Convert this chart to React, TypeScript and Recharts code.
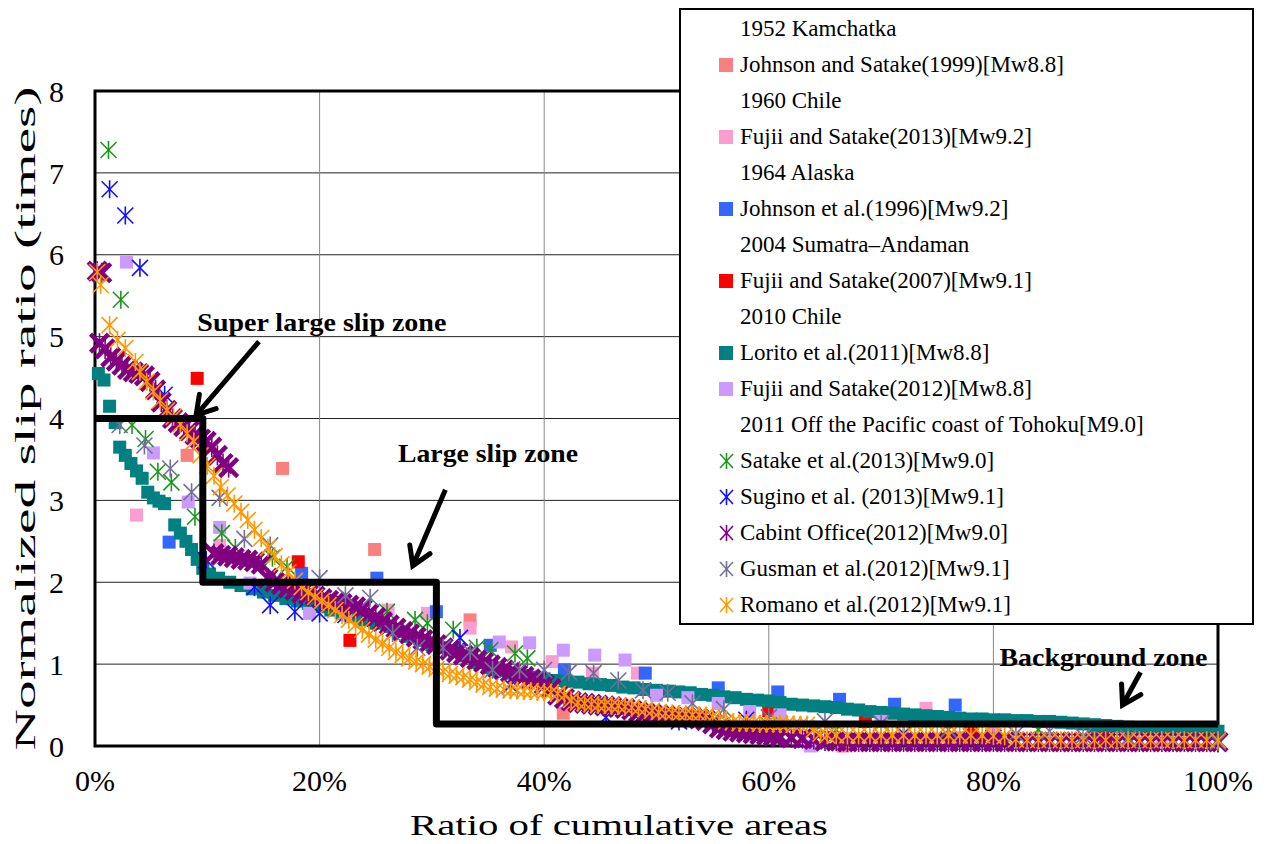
// Normalized slip ratio vs ratio of cumulative areas, with the three slip zones.

import {
	CartesianGrid,
	Label,
	ReferenceArea,
	ReferenceDot,
	ReferenceLine,
	Scatter,
	ScatterChart,
	XAxis,
	YAxis,
} from "recharts";

type Pt = [number, number];

const FONT = '"Liberation Serif", "Times New Roman", serif';

const xTicks = [0, 20, 40, 60, 80, 100];
const yTicks = [0, 1, 2, 3, 4, 5, 6, 7, 8];

// 1952 Kamchatka
const johnsonSatake1999: Pt[] = [
	[8.2, 3.55], [16.7, 3.39], [24.9, 2.4], [33.4, 1.54], [41.7, 0.4], [66.6, 0.0],
];
// 1960 Chile
const fujiiSatake2013: Pt[] = [
	[3.7, 2.82], [11.1, 2.45], [26.1, 1.66], [29.6, 1.62], [33.4, 1.44], [37.1, 1.21],
	[40.7, 1.03], [44.3, 0.89], [48.3, 0.89], [74, 0.46], [80, 0.2], [90, 0.15], [95, 0.05],
];
// 1964 Alaska
const johnson1996: Pt[] = [
	[6.6, 2.49], [18.4, 2.11], [25.1, 2.05], [30.4, 1.64], [35.2, 1.23], [41.8, 0.93],
	[49, 0.89], [55.5, 0.71], [60.8, 0.66], [66.3, 0.57], [71.2, 0.51], [76.6, 0.5], [88.9, 0.16],
];
// 2004 Sumatra-Andaman
const fujiiSatake2007: Pt[] = [
	[9.1, 4.49], [18.1, 2.25], [22.7, 1.29], [60, 0.43], [68.6, 0.3], [78, 0.2], [90, 0.1],
];
// 2010 Chile
const lorito2011: Pt[] = [
	[0.3, 4.55], [0.8, 4.47], [1.3, 4.15], [1.8, 3.95], [2.2, 3.65], [2.7, 3.55], [3.2, 3.45],
	[3.7, 3.36], [4.2, 3.27], [4.7, 3.1], [5.2, 3.03], [5.7, 2.99], [6.2, 2.96], [7.1, 2.7],
	[7.6, 2.6], [8.1, 2.5], [8.6, 2.4], [9.1, 2.28], [9.6, 2.17], [10.2, 2.1], [11, 2.05],
	[12, 2.0], [13, 1.96], [14, 1.92], [15, 1.88], [16, 1.84], [17, 1.8], [18, 1.77], [19, 1.74],
	[20, 1.7], [21, 1.66], [22, 1.62], [23, 1.58], [24, 1.54], [25, 1.5], [26, 1.46], [27, 1.4],
	[28, 1.34], [29, 1.29], [30, 1.24], [31, 1.2], [32, 1.16], [33, 1.1], [34, 1.02], [35, 0.96],
	[36, 0.92], [37, 0.89], [38, 0.86], [39, 0.84], [40, 0.82], [41, 0.8], [42, 0.79], [43, 0.78],
	[44, 0.76], [45, 0.75], [46, 0.74], [47, 0.72], [48, 0.71], [49, 0.69], [50, 0.68], [51, 0.67],
	[52, 0.66], [53, 0.65], [54, 0.63], [55, 0.62], [56, 0.6], [57, 0.59], [58, 0.57], [59, 0.56],
	[60, 0.55], [61, 0.53], [62, 0.51], [63, 0.5], [64, 0.49], [65, 0.48], [66, 0.47], [67, 0.45],
	[68, 0.44], [69, 0.42], [70, 0.41], [71, 0.4], [72, 0.39], [73, 0.38], [74, 0.37], [75, 0.36],
	[76, 0.35], [77, 0.34], [78, 0.33], [79, 0.33], [80, 0.32], [81, 0.32], [82, 0.31], [83, 0.31],
	[84, 0.3], [85, 0.3], [86, 0.29], [87, 0.28], [88, 0.27], [89, 0.26], [90, 0.25], [91, 0.24],
	[92, 0.23], [93, 0.22], [94, 0.21], [95, 0.21], [96, 0.2], [97, 0.2], [98, 0.19], [99, 0.19],
	[100, 0.18],
];
const fujiiSatake2012: Pt[] = [
	[2.8, 5.91], [5.2, 3.58], [8.3, 2.98], [11.1, 2.67], [13.8, 1.99], [19.1, 1.62], [22.3, 1.6],
	[36, 1.27], [38.7, 1.26], [41.7, 1.17], [44.5, 1.11], [47.2, 1.05], [50, 0.62], [52.8, 0.59],
	[55.5, 0.52], [58.3, 0.42], [61, 0.38], [63.7, 0.0], [70, 0.3], [77, 0.1],
];
// 2011 Tohoku
const satake2013: Pt[] = [
	[1.2, 7.28], [2.3, 5.45], [3.3, 3.92], [4.5, 3.75], [5.6, 3.35], [6.8, 3.22], [8.9, 2.8],
	[11.3, 2.6], [12.5, 2.42], [15.8, 2.3], [17.1, 2.19], [26, 1.64], [28.5, 1.54], [29.6, 1.5],
	[31.9, 1.42], [34, 1.2], [35.2, 1.17], [37.4, 1.13], [38.5, 1.07], [55, 0.3], [60, 0.25],
	[66, 0.2], [72, 0.15], [78, 0.12], [84, 0.2], [90, 0.08], [96, 0.05],
];
const sugino2013: Pt[] = [
	[1.3, 6.8], [2.7, 6.48], [4.0, 5.84], [6.2, 4.29], [9.9, 2.27], [14.2, 1.94], [15.6, 1.72],
	[17.8, 1.64], [20, 1.62], [22.3, 1.6], [32.5, 1.32], [37, 0.74], [45.5, 0.35], [52, 0.3],
	[58, 0.32], [64, 0.2], [72, 0.15], [80, 0.1], [90, 0.08], [100, 0.03],
];
const cabinetOffice2012: Pt[] = [
	[0.2, 5.8], [0.6, 5.78], [0.4, 4.92], [0.9, 4.85], [1.4, 4.75], [1.9, 4.7], [2.4, 4.65],
	[2.9, 4.6], [3.4, 4.57], [3.9, 4.55], [4.4, 4.52], [4.9, 4.45], [5.4, 4.35], [5.9, 4.2],
	[6.4, 4.1], [6.9, 4.0], [7.4, 3.95], [7.9, 3.9], [8.4, 3.85], [8.9, 3.8], [9.4, 3.75],
	[9.9, 3.72], [10.4, 3.65], [10.9, 3.55], [11.4, 3.45], [11.9, 3.4], [10.6, 2.35], [11.2, 2.33],
	[11.8, 2.32], [12.4, 2.3], [13, 2.28], [13.6, 2.27], [14.2, 2.25], [14.8, 2.22], [15.4, 2.05],
	[16, 2.0], [16.6, 1.97], [17.2, 1.93], [17.8, 1.9], [18.4, 1.87], [19, 1.85], [19.6, 1.83],
	[20.2, 1.8], [20.8, 1.78], [21.4, 1.76], [22, 1.74], [22.6, 1.72], [23.2, 1.7], [23.8, 1.67],
	[24.4, 1.62], [25, 1.57], [25.6, 1.52], [26.2, 1.48], [26.8, 1.44], [27.4, 1.4], [28, 1.37],
	[28.6, 1.33], [29.2, 1.3], [29.8, 1.27], [30.4, 1.24], [31, 1.2], [31.6, 1.17], [32.2, 1.14],
	[32.8, 1.11], [33.4, 1.08], [34, 1.05], [34.6, 1.02], [35.2, 0.99], [35.8, 0.96], [36.4, 0.93],
	[37, 0.9], [37.6, 0.87], [38.2, 0.85], [38.8, 0.82], [39.4, 0.8], [40, 0.75], [40.6, 0.7],
	[41.2, 0.62], [41.8, 0.58], [42.4, 0.55], [43, 0.53], [43.6, 0.52], [44.2, 0.51], [44.8, 0.5],
	[45.4, 0.49], [46, 0.48], [46.6, 0.47], [47.2, 0.46], [47.8, 0.44], [48.4, 0.41], [49, 0.4],
	[49.6, 0.39], [50.2, 0.38], [50.8, 0.37], [51.4, 0.36], [52, 0.36], [52.6, 0.35], [53.2, 0.34],
	[53.8, 0.33], [54.4, 0.31], [55, 0.27], [55.6, 0.22], [56.2, 0.2], [56.8, 0.18], [57.4, 0.17],
	[58, 0.16], [58.6, 0.15], [59.2, 0.14], [59.8, 0.13], [60.4, 0.12], [61, 0.11], [62, 0.1],
	[63, 0.09], [64, 0.08], [65, 0.06], [66, 0.06], [67, 0.05], [68, 0.05], [69, 0.05], [70, 0.05],
	[71, 0.05], [72, 0.05], [73, 0.05], [74, 0.05], [75, 0.05], [76, 0.05], [77, 0.05], [78, 0.05],
	[79, 0.05], [80, 0.05], [81, 0.05], [82, 0.05], [83, 0.05], [84, 0.05], [85, 0.05], [86, 0.05],
	[87, 0.05], [88, 0.05], [89, 0.05], [90, 0.05], [91, 0.05], [92, 0.05], [93, 0.05], [94, 0.05],
	[95, 0.05], [96, 0.05], [97, 0.05], [98, 0.05], [99, 0.05], [100, 0.05],
];
const gusman2012: Pt[] = [
	[2.2, 3.92], [4.4, 3.67], [6.7, 3.39], [8.6, 3.1], [11.1, 3.03], [13.3, 2.53], [15.6, 2.45],
	[20, 2.05], [22.3, 1.84], [24.5, 1.81], [26.5, 1.38], [28.7, 1.2], [31, 1.2], [33.4, 1.15],
	[35.4, 0.93], [37.8, 0.93], [40, 0.93], [42.2, 0.9], [44.4, 0.89], [46.6, 0.8], [48.8, 0.68],
	[51, 0.65], [53.2, 0.52], [56, 0.45], [60, 0.35], [65, 0.3], [70, 0.28], [76, 0.2], [82, 0.15],
	[85, 0.18], [88, 0.12], [92, 0.1], [96, 0.08], [100, 0.05],
];
const romano2012: Pt[] = [
	[0.2, 5.79], [0.5, 5.63], [1.3, 5.14], [2.0, 4.96], [2.7, 4.86], [3.6, 4.69], [4.0, 4.57],
	[4.6, 4.45], [5.2, 4.33], [5.8, 4.22], [6.4, 4.1], [7.0, 4.02], [7.6, 3.93], [8.2, 3.82],
	[8.8, 3.72], [9.4, 3.55], [10.0, 3.42], [10.6, 3.3], [11.2, 3.16], [11.8, 3.06], [12.4, 2.96],
	[13.0, 2.86], [13.6, 2.76], [14.2, 2.64], [14.8, 2.54], [15.4, 2.42], [16.0, 2.32], [16.6, 2.22],
	[17.2, 2.12], [17.8, 2.02], [18.4, 1.94], [19.0, 1.88], [19.6, 1.82], [20.2, 1.77], [20.8, 1.72],
	[21.4, 1.66], [22.0, 1.6], [22.6, 1.54], [23.2, 1.48], [23.8, 1.42], [24.4, 1.36], [25.0, 1.3],
	[25.6, 1.25], [26.2, 1.2], [26.8, 1.15], [27.4, 1.11], [28.0, 1.07], [28.6, 1.03], [29.2, 1.0],
	[29.8, 0.97], [30.4, 0.94], [31.0, 0.91], [31.6, 0.88], [32.2, 0.86], [32.8, 0.84], [33.4, 0.81],
	[34.0, 0.78], [34.6, 0.75], [35.2, 0.72], [35.8, 0.7], [36.4, 0.69], [37.0, 0.68], [37.6, 0.68],
	[38.2, 0.67], [38.8, 0.67], [39.4, 0.66], [40.0, 0.66], [40.6, 0.65], [41.2, 0.64], [41.8, 0.62],
	[42.4, 0.56], [43.0, 0.53], [43.6, 0.52], [44.2, 0.51], [44.8, 0.5], [45.4, 0.5], [46.0, 0.49],
	[46.6, 0.49], [47.2, 0.48], [47.8, 0.47], [48.4, 0.46], [49.0, 0.45], [49.6, 0.43], [50.2, 0.41],
	[50.8, 0.4], [51.4, 0.4], [52.0, 0.39], [52.6, 0.39], [53.2, 0.38], [53.8, 0.38], [54.4, 0.37],
	[55.0, 0.36], [55.6, 0.33], [56.2, 0.3], [56.8, 0.29], [57.4, 0.28], [58.0, 0.28], [58.6, 0.28],
	[59.2, 0.27], [59.8, 0.27], [60.4, 0.27], [61.0, 0.27], [61.6, 0.27], [62.2, 0.26], [62.8, 0.26],
	[63.4, 0.26], [64.0, 0.2], [64.6, 0.15], [65.2, 0.13], [66, 0.13], [67, 0.13], [68, 0.13],
	[69, 0.13], [70, 0.13], [71, 0.13], [72, 0.13], [73, 0.13], [74, 0.13], [75, 0.13], [76, 0.13],
	[77, 0.13], [78, 0.13], [79, 0.13], [80, 0.12], [81, 0.12], [82, 0.08], [83, 0.07], [84, 0.07],
	[85, 0.07], [86, 0.07], [87, 0.07], [88, 0.07], [89, 0.07], [90, 0.07], [91, 0.07], [92, 0.07],
	[93, 0.07], [94, 0.07], [95, 0.07], [96, 0.07], [97, 0.07], [98, 0.07], [99, 0.07], [100, 0.07],
];

// zone boundaries: super large (4x), large (2x), background
const zoneSteps: Pt[] = [[0, 4], [9.6, 4], [9.6, 2], [30.4, 2], [30.4, 0.27], [100, 0.27]];

type Marker = "square" | "star" | "bowtie";
type Series = { name: string; data: Pt[]; color: string; marker: Marker; header?: string };

const series: Series[] = [
	{ header: "1952 Kamchatka", name: "Johnson and Satake(1999)[Mw8.8]", data: johnsonSatake1999, color: "#fa8080", marker: "square" },
	{ header: "1960 Chile", name: "Fujii and Satake(2013)[Mw9.2]", data: fujiiSatake2013, color: "#fb9dcf", marker: "square" },
	{ header: "1964 Alaska", name: "Johnson et al.(1996)[Mw9.2]", data: johnson1996, color: "#3366ff", marker: "square" },
	{ header: "2004 Sumatra–Andaman", name: "Fujii and Satake(2007)[Mw9.1]", data: fujiiSatake2007, color: "#ff0000", marker: "square" },
	{ header: "2010 Chile", name: "Lorito et al.(2011)[Mw8.8]", data: lorito2011, color: "#008080", marker: "square" },
	{ name: "Fujii and Satake(2012)[Mw8.8]", data: fujiiSatake2012, color: "#cc99ff", marker: "square" },
	{ header: "2011 Off the Pacific coast of Tohoku[M9.0]", name: "Satake et al.(2013)[Mw9.0]", data: satake2013, color: "#1e961e", marker: "star" },
	{ name: "Sugino et al. (2013)[Mw9.1]", data: sugino2013, color: "#1010ff", marker: "star" },
	{ name: "Cabint Office(2012)[Mw9.0]", data: cabinetOffice2012, color: "#800080", marker: "bowtie" },
	{ name: "Gusman et al.(2012)[Mw9.1]", data: gusman2012, color: "#70709a", marker: "star" },
	{ name: "Romano et al.(2012)[Mw9.1]", data: romano2012, color: "#ff9900", marker: "star" },
];

const toRows = (pts: Pt[]) => pts.map(([x, y]) => ({ x, y }));

function drawMarker(marker: Marker, color: string) {
	return (p: any) => {
		const { cx, cy } = p;
		if (cx == null || cy == null) return <g />;
		if (marker === "square") {
			return <rect x={cx - 6.5} y={cy - 6.5} width={13} height={13} fill={color} />;
		}
		const w = marker === "bowtie" ? 4.5 : 1.6;
		const s = marker === "bowtie" ? 9 : 8;
		return (
			<g stroke={color} strokeWidth={w}>
				<line x1={cx - s} y1={cy - s} x2={cx + s} y2={cy + s} />
				<line x1={cx - s} y1={cy + s} x2={cx + s} y2={cy - s} />
				<line x1={cx} y1={cy - s - 1} x2={cx} y2={cy + s + 1} strokeWidth={1.6} />
			</g>
		);
	};
}

function LegendIcon({ s }: { s: Series }) {
	return (
		<svg width={15} height={16} style={{ display: "block" }}>
			{s.marker === "square" ? (
				<rect x={0} y={1} width={14} height={14} fill={s.color} />
			) : (
				<g stroke={s.color} strokeWidth={1.6}>
					<line x1={1} y1={1} x2={14} y2={15} />
					<line x1={1} y1={15} x2={14} y2={1} />
					<line x1={7.5} y1={0} x2={7.5} y2={16} />
				</g>
			)}
		</svg>
	);
}

function LegendBox() {
	const rows: { text: string; s?: Series }[] = [];
	for (const s of series) {
		if (s.header) rows.push({ text: s.header });
		rows.push({ text: s.name, s });
	}
	return (
		<div
			style={{
				position: "absolute",
				left: 671,
				top: 0,
				width: 575,
				height: 617,
				boxSizing: "border-box",
				border: "2px solid #000",
				background: "#fff",
				fontFamily: FONT,
				fontSize: 23,
				paddingTop: 1,
			}}
		>
			{rows.map((r, i) => (
				<div key={i} style={{ height: 36, display: "flex", alignItems: "center", paddingLeft: 38, whiteSpace: "nowrap" }}>
					<div style={{ width: 21 }}>{r.s ? <LegendIcon s={r.s} /> : null}</div>
					<span>{r.text}</span>
				</div>
			))}
		</div>
	);
}

const zoneLabel = (text: string, len: number) => (props: any) => {
	const vb = props.viewBox ?? {};
	const x = (vb.x ?? 0) + (vb.width ?? 0) / 2;
	const y = (vb.y ?? 0) + (vb.height ?? 0) / 2;
	return (
		<text x={x} y={y + 9} textAnchor="middle" fontFamily={FONT} fontWeight="bold" fontSize={26} fill="#000" textLength={len} lengthAdjust="spacingAndGlyphs">
			{text}
		</text>
	);
};

export default function App() {
	const tickStyle = { fontSize: 30, fontFamily: FONT, fill: "#000" };
	return (
		<div style={{ position: "relative", width: 1259, height: 836 }}>
			<svg width={0} height={0} style={{ position: "absolute" }}>
				<defs>
					<marker id="zoneArrow" markerUnits="userSpaceOnUse" orient="auto" markerWidth={30} markerHeight={30} refX={23} refY={15}>
						<path d="M5,4 L23,15 L5,26" fill="none" stroke="#000" strokeWidth={5} strokeLinecap="round" />
					</marker>
				</defs>
			</svg>
			<ScatterChart width={1259} height={836} margin={{ top: 83, right: 49, bottom: 0, left: 0 }}>
				<CartesianGrid horizontal vertical={false} stroke="#222" />
				<CartesianGrid horizontal={false} vertical stroke="#888" />
				<XAxis
					type="number"
					dataKey="x"
					domain={[0, 100]}
					ticks={xTicks}
					interval={0}
					tickFormatter={(v) => `${v}%`}
					tick={tickStyle}
					axisLine={false}
					tickLine={false}
					tickMargin={18}
					height={98}
				>
					<Label
						content={(p: any) => (
							<text x={611} y={(p.viewBox?.y ?? 738) + 89} textAnchor="middle" fontFamily={FONT} fontSize={29} fill="#000" textLength={418} lengthAdjust="spacingAndGlyphs">
								Ratio of cumulative areas
							</text>
						)}
					/>
				</XAxis>
				<YAxis
					type="number"
					dataKey="y"
					domain={[0, 8]}
					ticks={yTicks}
					interval={0}
					tick={tickStyle}
					axisLine={false}
					tickLine={false}
					tickMargin={25}
					width={87}
				>
					<Label
						content={(p: any) => {
							const vb = p.viewBox ?? { y: 83, height: 655 };
							const cy = vb.y + vb.height / 2;
							return (
								<text x={27} y={cy} transform={`rotate(-90, 27, ${cy})`} textAnchor="middle" fontFamily={FONT} fontSize={30} fill="#000" textLength={664} lengthAdjust="spacingAndGlyphs">
									Normalized slip ratio (times)
								</text>
							);
						}}
					/>
				</YAxis>
				<ReferenceArea x1={0} x2={100} y1={0} y2={8} fill="none" stroke="#000" strokeWidth={3} />
				{series.map((s) => (
					<Scatter key={s.name} name={s.name} data={toRows(s.data)} shape={drawMarker(s.marker, s.color)} isAnimationActive={false} />
				))}
				<Scatter
					data={toRows(zoneSteps)}
					line={{ stroke: "#000", strokeWidth: 7, strokeLinejoin: "round" }}
					shape={() => <g />}
					isAnimationActive={false}
				/>
				<ReferenceLine segment={[{ x: 14.6, y: 4.94 }, { x: 9.0, y: 4.04 }]} stroke="#000" strokeWidth={5} markerEnd="url(#zoneArrow)" />
				<ReferenceLine segment={[{ x: 31.2, y: 3.13 }, { x: 28.3, y: 2.2 }]} stroke="#000" strokeWidth={5} markerEnd="url(#zoneArrow)" />
				<ReferenceLine segment={[{ x: 93.1, y: 0.9 }, { x: 91.5, y: 0.5 }]} stroke="#000" strokeWidth={5} markerEnd="url(#zoneArrow)" />
				<ReferenceDot x={20.2} y={5.18} r={0} fill="none" stroke="none" label={zoneLabel("Super large slip zone", 249)} />
				<ReferenceDot x={35.0} y={3.58} r={0} fill="none" stroke="none" label={zoneLabel("Large slip zone", 180)} />
				<ReferenceDot x={89.8} y={1.09} r={0} fill="none" stroke="none" label={zoneLabel("Background zone", 208)} />
			</ScatterChart>
			<LegendBox />
		</div>
	);
}
